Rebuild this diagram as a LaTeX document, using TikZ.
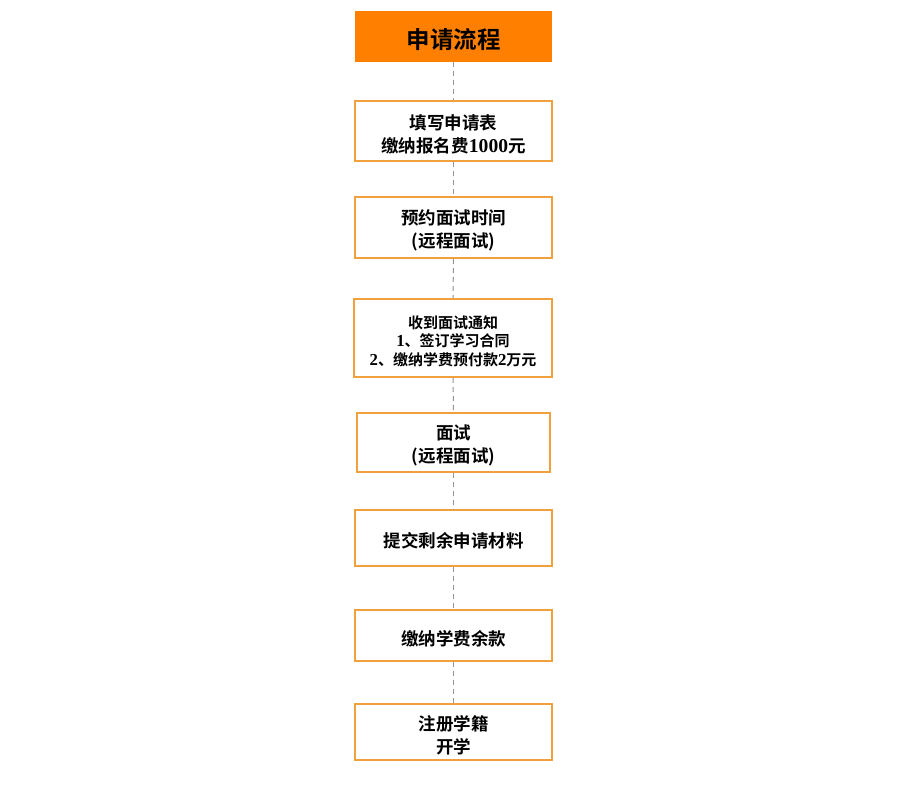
\documentclass[tikz,border=0pt]{standalone}
\usepackage{fontspec}
\setmainfont{Noto Sans CJK SC}[BoldFont={Noto Sans CJK SC Bold}]
\newfontfamily\numfont{Liberation Serif}[Scale=1.12]
\begin{document}
\begin{tikzpicture}[x=1pt,y=-1pt,
  boxstyle/.style={draw=boxorange,line width=1.6pt,fill=white,inner sep=0pt},
  txtstyle/.style={inner sep=0pt,align=center,yshift=-3pt,font=\bfseries\fontsize{17.5}{23}\selectfont},
  smalltxt/.style={txtstyle,font=\bfseries\fontsize{15}{18.5}\selectfont},
  titlestyle/.style={fill=titleorange,inner sep=0pt},
  titletxt/.style={inner sep=0pt,yshift=-3pt,font=\bfseries\fontsize{23.5}{27}\selectfont},
  linkstyle/.style={draw=gray!85,line width=1pt,dash pattern=on 5pt off 4pt}]
\definecolor{boxorange}{RGB}{240,160,60}
\definecolor{titleorange}{RGB}{255,128,0}
\useasboundingbox (0,0) rectangle (908,786);
\fill[white] (0,0) rectangle (908,786);
\node[titlestyle,minimum width=197pt,minimum height=51pt] (t) at (453.5,36.5) {};
\node[titletxt] (tt) at (t.center) {申请流程};
\node[boxstyle,minimum width=197pt,minimum height=60pt] (b1) at (453.5,131) {};
\node[txtstyle] (t1) at (b1.center) {填写申请表\\缴纳报名费{\numfont\bfseries 1000}元};
\node[boxstyle,minimum width=197pt,minimum height=61pt] (b2) at (453.5,227.5) {};
\node[txtstyle] (t2) at (b2.center) {预约面试时间\\(远程面试)};
\node[boxstyle,minimum width=198pt,minimum height=78pt] (b3) at (453,338) {};
\node[smalltxt] (t3) at (b3.center) {收到面试通知\\{\numfont\bfseries 1}、签订学习合同\\{\numfont\bfseries 2}、缴纳学费预付款{\numfont\bfseries 2}万元};
\node[boxstyle,minimum width=193pt,minimum height=59pt] (b4) at (453.5,442.5) {};
\node[txtstyle] (t4) at (b4.center) {面试\\(远程面试)};
\node[boxstyle,minimum width=197pt,minimum height=56pt] (b5) at (453.5,538) {};
\node[txtstyle] (t5) at (b5.center) {提交剩余申请材料};
\node[boxstyle,minimum width=197pt,minimum height=51pt] (b6) at (453.5,635.5) {};
\node[txtstyle] (t6) at (b6.center) {缴纳学费余款};
\node[boxstyle,minimum width=197pt,minimum height=56pt] (b7) at (453.5,732) {};
\node[txtstyle] (t7) at (b7.center) {注册学籍\\开学};
\foreach \a/\b in {t/b1,b1/b2,b2/b3,b3/b4,b4/b5,b5/b6,b6/b7}
  \draw[linkstyle] (\a.south) -- (\b.north);
\end{tikzpicture}
\end{document}
